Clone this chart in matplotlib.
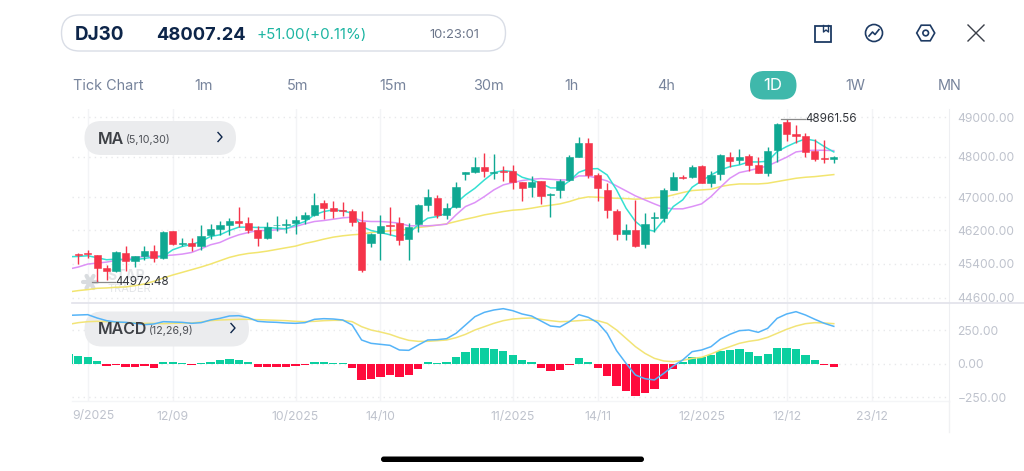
import numpy as np
import matplotlib
matplotlib.use('Agg')
import matplotlib.pyplot as plt
from matplotlib.patches import FancyBboxPatch, Circle, Polygon, Rectangle

plt.rcParams['font.family'] = ['Inter', 'DejaVu Sans']

# daily candles, first index is 0
opens = [45623, 45647, 45600, 45301, 45223, 45655, 45458, 45592, 45694, 45529,
         46179, 45861, 45893, 45829, 46076, 46243, 46316, 46420, 46372, 46211,
         46004, 46316, 46332, 46388, 46484, 46573, 46856, 46743, 46694, 46670,
         46412, 45893, 46131, 46332, 46380, 45996, 46348, 46807, 46995, 46565,
         46759, 47568, 47625, 47758, 47609, 47659, 47650, 47378, 47264, 47403,
         47068, 47182, 47428, 48007, 48358, 47543, 47182, 46670, 46115, 46203,
         45861, 46501, 46501, 47182, 47502, 47502, 47766, 47346, 47568, 47991,
         47916, 48024, 47791, 47609, 48174, 48890, 48585, 48518, 48149, 47974,
         47950]
highs = [45655, 45734, 45615, 45364, 45694, 45813, 45592, 45813, 45845, 46195,
         46187, 46020, 46012, 46316, 46356, 46436, 46501, 46775, 46517, 46308,
         46396, 46549, 46468, 46557, 46654, 47100, 46937, 46921, 46880, 46727,
         46678, 46131, 46573, 46759, 46533, 46388, 46840, 47198, 47052, 46856,
         47370, 47634, 48007, 48107, 48074, 47775, 47791, 47387, 47518, 47412,
         47100, 47461, 48041, 48493, 48467, 47592, 47346, 46727, 46356, 46937,
         46630, 46646, 47231, 47634, 47551, 47808, 47791, 47659, 48065, 48124,
         48191, 48065, 48007, 48258, 48847, 48961.56, 48813, 48594, 48442, 48425,
         48024]
lows = [45403, 45537, 44972.48, 45028, 45207, 45238, 45317, 45497, 45434, 45513,
        45845, 45813, 45702, 45734, 45988, 46092, 46092, 46276, 46147, 45829,
        45988, 46195, 46147, 46115, 46348, 46549, 46484, 46492, 46549, 46308,
        45199, 45790, 45497, 46092, 45845, 45482, 46171, 46670, 46509, 46468,
        46751, 47428, 47592, 47510, 47444, 47395, 47198, 46913, 47019, 46848,
        46533, 46995, 47403, 47991, 47486, 46913, 46492, 45972, 45956, 45797,
        45766, 46171, 46404, 47174, 47453, 47486, 47346, 47264, 47428, 47758,
        47824, 47659, 47592, 47527, 47883, 48408, 48358, 48007, 47908, 47858,
        47841]
closes = [45600, 45623, 45301, 45238, 45670, 45458, 45576, 45710, 45537, 46155,
          45877, 45893, 45829, 46068, 46235, 46316, 46420, 46364, 46211, 46004,
          46284, 46332, 46348, 46452, 46565, 46815, 46743, 46662, 46662, 46404,
          45246, 46107, 46308, 46308, 45972, 46284, 46807, 47003, 46573, 46743,
          47248, 47617, 47758, 47650, 47634, 47634, 47387, 47231, 47387, 47044,
          47092, 47403, 48007, 48341, 47560, 47239, 46694, 46100, 46203, 45813,
          46340, 46533, 47174, 47502, 47486, 47758, 47354, 47543, 48041, 47899,
          48007, 47808, 47601, 48157, 48830, 48585, 48526, 48132, 47958, 47956,
          48007.24]

# the averages and MACD series start one session earlier (index -1)
ma5 = [45568, 45576, 45592, 45545, 45497, 45513, 45497, 45497, 45529, 45560,
       45576, 45734, 45813, 45861, 45932, 46052, 46092, 46195, 46276, 46276,
       46268, 46268, 46251, 46235, 46332, 46412, 46573, 46654, 46694, 46670,
       46613, 46292, 46195, 46147, 46092, 46036, 46131, 46332, 46492, 46533,
       46613, 46856, 47060, 47223, 47428, 47609, 47659, 47634, 47494, 47428,
       47346, 47231, 47231, 47403, 47617, 47700, 47708, 47551, 47182, 46735,
       46412, 46227, 46179, 46452, 46775, 46937, 47248, 47403, 47551, 47675,
       47758, 47800, 47874, 47874, 47891, 48132, 48258, 48366, 48451, 48408,
       48258, 48124]
ma10 = [45277, 45325, 45395, 45418, 45442, 45482, 45513, 45545, 45576, 45584,
        45592, 45608, 45631, 45670, 45757, 45853, 45909, 46012, 46092, 46147,
        46195, 46195, 46211, 46243, 46292, 46356, 46412, 46436, 46468, 46501,
        46517, 46428, 46412, 46412, 46396, 46372, 46308, 46308, 46308, 46324,
        46348, 46573, 46775, 46872, 47019, 47182, 47305, 47362, 47412, 47444,
        47461, 47444, 47428, 47428, 47527, 47527, 47469, 47403, 47280, 47158,
        47035, 46937, 46840, 46751, 46719, 46719, 46775, 46840, 47019, 47248,
        47469, 47609, 47659, 47716, 47775, 47883, 47991, 48124, 48157, 48166,
        48166, 48157]
ma30 = [44741, 44772, 44795, 44826, 44834, 44850, 44857, 44888, 44927, 44989,
        45067, 45137, 45199, 45262, 45325, 45395, 45474, 45553, 45608, 45647,
        45670, 45702, 45742, 45782, 45821, 45885, 45932, 45988, 46036, 46068,
        46092, 46107, 46147, 46171, 46187, 46211, 46227, 46268, 46292, 46324,
        46356, 46412, 46468, 46517, 46573, 46613, 46654, 46686, 46702, 46735,
        46775, 46807, 46840, 46897, 46970, 47011, 47003, 46986, 46978, 46970,
        46954, 46970, 46995, 47003, 47060, 47117, 47166, 47182, 47198, 47264,
        47305, 47329, 47329, 47329, 47346, 47387, 47428, 47469, 47494, 47510,
        47535, 47560]

dif = [362.5, 365, 367.5, 342.5, 322.5, 312.5, 310, 302.5, 292.5, 297.5,
       315, 312.5, 310, 302.5, 307.5, 327.5, 340, 357.5, 360, 345,
       317.5, 312.5, 310, 305, 302.5, 307.5, 332.5, 337.5, 335, 327.5,
       290, 177.5, 152.5, 145, 137.5, 102.5, 100, 140, 177.5, 180,
       187.5, 227.5, 290, 352.5, 385, 402.5, 412.5, 397.5, 372.5, 357.5,
       320, 282.5, 275, 315, 367.5, 347.5, 307.5, 227.5, 97.5, 2.5,
       -85, -112.5, -122.5, -72.5, -17.5, 27.5, 90, 102.5, 127.5, 185,
       220, 247.5, 252.5, 235, 265, 340, 372.5, 390, 365, 332.5,
       302.5, 280]
dea = [295, 307.5, 315, 317.5, 315, 312.5, 307.5, 307.5, 302.5, 302.5,
       300, 302.5, 305, 305, 312.5, 322.5, 327.5, 330, 332.5, 332.5,
       330, 327.5, 325, 322.5, 317.5, 315, 317.5, 322.5, 325, 325,
       315, 277.5, 252.5, 237.5, 220, 195, 175, 167.5, 167.5, 172.5,
       177.5, 195, 220, 252.5, 277.5, 302.5, 322.5, 335, 340, 342.5,
       332.5, 322.5, 315, 317.5, 322.5, 327.5, 322.5, 302.5, 252.5, 190,
       127.5, 77.5, 40, 20, 15, 25, 40, 47.5, 72.5, 102.5,
       127.5, 152.5, 167.5, 177.5, 197.5, 227.5, 257.5, 282.5, 300, 307.5,
       305, 300]
hist = [70, 60, 50, 17.5, -17.5, -7.5, -22.5, -22.5, -17.5, -30,
        10, 10, 7.5, -7.5, 7.5, 15, 25, 35, 30, 12.5,
        -22.5, -22.5, -22.5, -25, -17.5, -12.5, 12.5, 15, 7.5, 5,
        -30, -120, -117.5, -102.5, -87.5, -100, -82.5, -37.5, 10, 7.5,
        12.5, 47.5, 87.5, 115, 117.5, 107.5, 92.5, 62.5, 25, 10,
        -32.5, -52.5, -47.5, -7.5, 42.5, 15, -32.5, -95, -167.5, -202.5,
        -242.5, -217.5, -187.5, -112.5, -40, 15, 50, 52.5, 62.5, 95,
        102.5, 107.5, 87.5, 55, 70, 115, 117.5, 107.5, 65, 25,
        -7.5, -27.5]

price_ticks = [44600, 45400, 46200, 47000, 48000, 49000]
macd_ticks = [-250, 0, 250]
date_ticks = [1, 10, 23, 32, 46, 55, 66, 75, 84]
date_labels = ['', '12/09', '10/2025', '14/10', '11/2025', '14/11', '12/2025', '12/12', '23/12']
periods = ['1m', '5m', '15m', '30m', '1h', '4h', '1D', '1W', 'MN']
period_x = [204, 298, 393, 488, 571.5, 666, 773, 855.5, 950]

UP = '#0fa892'
DOWN = '#f5344a'
GRID = '#e8e9eb'
AXIS_TXT = '#bfc3cd'
NAVY = '#0d2549'
TAB_TXT = '#76839b'

fig = plt.figure(figsize=(10.24, 4.71), dpi=100, facecolor='white')
W, H = 1024, 471

ax = fig.add_axes([72 / W, (H - 303) / H, 877 / W, 194 / H])
ax2 = fig.add_axes([72 / W, (H - 401) / H, 877 / W, 98 / H])
ui = fig.add_axes([0, 0, 1, 1], zorder=5)
ui.set_xlim(0, W)
ui.set_ylim(H, 0)
ui.axis('off')

#%% price pane
idx = np.arange(len(closes))
o, h, l, c = map(np.array, (opens, highs, lows, closes))
up = c >= o
col = np.where(up, UP, DOWN)

ax.set_yscale('log')
ax.vlines(idx, l, h, colors=col, lw=1.0, zorder=3)
ax.bar(idx, np.abs(c - o), bottom=np.minimum(o, c), width=0.76, color=col,
       edgecolor=col, linewidth=0.4, zorder=4)

ma_x = np.arange(-1, len(closes))
ax.plot(ma_x, ma30, color='#f2e56f', lw=1.1, zorder=2)
ax.plot(ma_x, ma10, color='#dd92f7', lw=1.1, zorder=2)
ax.plot(ma_x, ma5, color='#35e0d2', lw=1.1, zorder=2)

ax.set_xlim(-0.667, 92.2)
ax.set_ylim(44484, 49212)
ax.set_yticks(price_ticks)
ax.set_yticklabels([f'{v:.2f}' for v in price_ticks])
ax.yaxis.set_minor_locator(matplotlib.ticker.NullLocator())
ax.yaxis.tick_right()
ax.set_xticks(date_ticks)
ax.tick_params(axis='x', labelbottom=False, length=0)

# highest / lowest markers
hi = int(np.argmax(h))
lo = int(np.argmin(l))
ax.plot([hi - 0.6, hi + 1.9], [h[hi], h[hi]], color='#8a8a8a', lw=0.9, zorder=5)
ax.text(hi + 1.95, h[hi], f'{h[hi]:.2f}', color='#33363c', fontsize=8.4,
        va='center', ha='left', zorder=6)
ax.plot([lo - 0.6, lo + 1.9], [l[lo], l[lo]], color='#8a8a8a', lw=0.9, zorder=5)
ax.text(lo + 1.95, l[lo], f'{l[lo]:.2f}', color='#33363c', fontsize=8.4,
        va='center', ha='left', zorder=6)

#%% MACD pane
bar_col = np.where(np.array(hist) >= 0, '#0bcfa0', '#ff0a3c')
ax2.bar(ma_x, hist, width=0.88, color=bar_col, zorder=2)
ax2.plot(ma_x, dea, color='#f2e477', lw=1.1, zorder=3)
ax2.plot(ma_x, dif, color='#55b4f8', lw=1.1, zorder=4)
ax2.set_xlim(-0.667, 92.2)
ax2.set_ylim(-280, 455)
ax2.set_yticks(macd_ticks)
ax2.set_yticklabels(['\u2212250.00', '0.00', '250.00'])
ax2.yaxis.tick_right()
ax2.set_xticks(date_ticks)
ax2.set_xticklabels(date_labels)
ax2.tick_params(axis='x', length=0, pad=7, labelsize=8.8, labelcolor=AXIS_TXT)

for a in (ax, ax2):
    a.set_axisbelow(True)
    a.patch.set_alpha(0)
    a.grid(axis='y', color=GRID, lw=1.0, ls=(0, (1, 3)))
    a.grid(axis='x', color='#f3f4f6', lw=1.0)
    a.tick_params(axis='y', length=0, pad=6, labelsize=8.7, labelcolor=AXIS_TXT)
    for s in ('top', 'left', 'bottom'):
        a.spines[s].set_visible(False)
    a.spines['right'].set_color('#eeeff2')


def pill(x0, y0, x1, y1, face, edge='none', lw=0, target=None, z=1):
    r = (y1 - y0) / 2
    p = FancyBboxPatch((x0, y0), x1 - x0, y1 - y0,
                       boxstyle=f'round,pad=0,rounding_size={r}',
                       fc=face, ec=edge, lw=lw, transform=ui.transData,
                       clip_on=False, zorder=z)
    (target or ui).add_patch(p)


def chevron(x, y):
    ui.plot([x - 2, x + 2, x - 2], [y - 4.5, y, y + 4.5], color=NAVY, lw=1.0)


# indicator pills sit over the grid but under the series
pill(84.5, 121, 236, 155, '#ebecee', target=ax)
pill(84.5, 311.5, 249, 346.5, '#ebecee', target=ax2)
ui.text(97.5, 139, 'MA', fontsize=11.5, fontweight='semibold', color='#3d4045', va='center')
ui.text(126, 139.5, '(5,10,30)', fontsize=7.7, color='#4d5056', va='center')
chevron(220, 137)
ui.text(97.5, 330, 'MACD', fontsize=11.5, fontweight='semibold', color='#3d4045', va='center')
ui.text(149, 330.5, '(12,26,9)', fontsize=7.7, color='#4d5056', va='center')
chevron(233, 328)

# watermark behind the candles
for ang in np.arange(0, 180, 60):
    dx, dy = 7 * np.cos(np.radians(ang)), 7 * np.sin(np.radians(ang))
    ax.plot([90 - dx, 90 + dx], [282 - dy, 282 + dy], color='#d9dcdf', lw=3,
            transform=ui.transData, zorder=1, solid_capstyle='round')
ax.text(107, 276, 'STAR', fontsize=10, fontweight='bold', color='#e3e5e8', va='center',
        transform=ui.transData, zorder=1)
ax.text(107, 289, 'TRADER', fontsize=8, color='#e3e5e8', va='center',
        transform=ui.transData, zorder=1)

# separators and frame pieces
ui.plot([72, 1024], [303, 303], color='#e1e2ea', lw=1.2)
ui.plot([72, 949], [401, 401], color='#f4f5f7', lw=1.0)
ui.plot([949, 949], [401, 432], color='#f0f1f3', lw=1.0)
ui.text(72, 415.5, '9/2025', fontsize=8.8, color=AXIS_TXT, va='center', ha='left')

#%% header
pill(61.5, 15, 505.5, 51, 'white', edge='#d9dde6', lw=1.0)
ui.text(75, 35, 'DJ30', fontsize=13.6, fontweight='bold', color=NAVY, va='center')
ui.text(156, 35, '48007.24', fontsize=13.2, fontweight='bold', color=NAVY, va='center')
ui.text(256, 35, '+51.00(+0.11%)', fontsize=10.9, color='#1db5a2', va='center')
ui.text(429, 35, '10:23:01', fontsize=9.4, color='#6c768a', va='center')

ui.text(73, 86, 'Tick Chart', fontsize=10.4, color=TAB_TXT, va='center')
pill(750, 71, 796.5, 99.5, '#3fb8ab')
for name, x in zip(periods, period_x):
    ui.text(x, 86, name, fontsize=12 if name == '1D' else 10.4,
            color='white' if name == '1D' else TAB_TXT, va='center', ha='center')

# toolbar icons
ICON = '#1d3a63'
ui.add_patch(Rectangle((815, 25.5), 16, 16, fc='none', ec=ICON, lw=1.3))
ui.plot([823.5, 823.5, 826, 828.5, 828.5], [25.5, 32, 30, 32, 25.5], color=ICON, lw=1.0)
ui.add_patch(Circle((874, 33), 8.5, fc='none', ec=ICON, lw=1.2))
ui.plot([869, 872.5, 875, 879], [36, 32, 34.5, 29.5], color=ICON, lw=1.2)
hex_pts = [(925.7 + 9 * np.cos(np.radians(a)), 33 + 9 * np.sin(np.radians(a)))
           for a in range(0, 360, 60)]
ui.add_patch(Polygon(hex_pts, closed=True, fc='none', ec=ICON, lw=1.2))
ui.add_patch(Circle((925.7, 33), 2.8, fc='none', ec=ICON, lw=1.2))
ui.plot([968, 984], [25, 41], color='#3a3f48', lw=1.0)
ui.plot([968, 984], [41, 25], color='#3a3f48', lw=1.0)

# home indicator
pill(381, 456.5, 644, 462, 'black')

fig.savefig('out.png', dpi=100)
